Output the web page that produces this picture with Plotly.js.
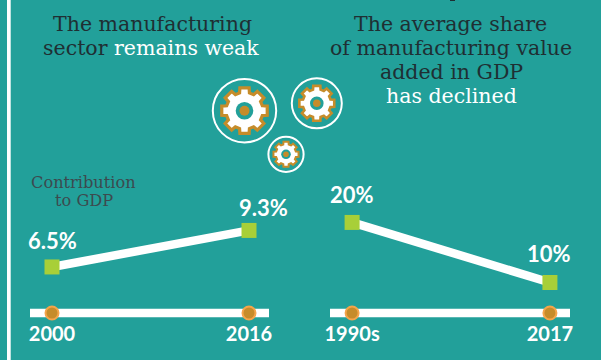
<!DOCTYPE html>
<html>
<head>
<meta charset="utf-8">
<script src="https://cdn.plot.ly/plotly-3.0.1.min.js"></script>
<style>html,body{margin:0;padding:0;background:#22a09a;overflow:hidden}</style>
</head>
<body>
<div id="chart" style="width:601px;height:360px"></div>
<script>
// Manufacturing indicators: contribution to GDP and share of value added
const gdpPeriods = ['2000', '2016'];
const gdpValues = [6.5, 9.3];
const sharePeriods = ['1990s', '2017'];
const shareValues = [20, 10];

const TEAL = '#22a09a', WHITE = '#ffffff', INK = '#1f2f33', SLATE = '#3c4a4f';
const LIME = '#a8cf38', AMBER = '#c68c2a', AMBER_RIM = '#f5a54a';
const W = 601, H = 360;
const LABEL = 'Lato, sans-serif', SERIF = '"DejaVu Serif", serif';

const lineTrace = (x, y, xa, ya) => ({
  type: 'scatter', mode: 'lines+markers', x, y, xaxis: xa, yaxis: ya,
  line: {color: WHITE, width: 8.5},
  marker: {symbol: 'square', size: 15, color: LIME},
  cliponaxis: false, hoverinfo: 'skip', showlegend: false
});
const dotTrace = (x, yMin, xa, ya) => ({
  type: 'scatter', mode: 'markers', x, y: x.map(() => yMin), xaxis: xa, yaxis: ya,
  marker: {symbol: 'circle', size: 13, color: AMBER, line: {color: AMBER_RIM, width: 2}},
  cliponaxis: false, hoverinfo: 'skip', showlegend: false
});

const gdpRange = [2.97, 12.4], shareRange = [4.92, 25.4];
const traces = [
  lineTrace(gdpPeriods, gdpValues, 'x', 'y'),
  dotTrace(gdpPeriods, gdpRange[0], 'x', 'y'),
  lineTrace(sharePeriods, shareValues, 'x2', 'y2'),
  dotTrace(sharePeriods, shareRange[0], 'x2', 'y2')
];

// Cog outline around (cx, cy) in paper fractions, with eight square teeth
function cogPath(cx, cy, rOuter, rRoot) {
  const n = 8, pts = [];
  for (let i = 0; i < n; i++) {
    const a = i * 2 * Math.PI / n;
    const wTip = 0.2, wRoot = 0.27;
    [[rRoot, -wRoot], [rOuter, -wTip], [rOuter, wTip], [rRoot, wRoot]].forEach(([r, d]) => {
      pts.push([cx + r * Math.cos(a + d), cy + r * Math.sin(a + d)]);
    });
  }
  return 'M' + pts.map(p => (p[0] / W).toFixed(5) + ',' + (1 - p[1] / H).toFixed(5)).join('L') + 'Z';
}
const disc = (cx, cy, r, fill, lineColor, lineWidth) => ({
  type: 'circle', xref: 'paper', yref: 'paper', layer: 'above',
  x0: (cx - r) / W, x1: (cx + r) / W, y0: 1 - (cy + r) / H, y1: 1 - (cy - r) / H,
  fillcolor: fill, line: {color: lineColor, width: lineWidth}
});
const cog = (cx, cy, ring, ringW, rOuter, rRoot, hole, dot, edge) => [
  disc(cx, cy, ring, 'rgba(0,0,0,0)', WHITE, ringW),
  {type: 'path', xref: 'paper', yref: 'paper', layer: 'above', path: cogPath(cx, cy, rOuter, rRoot),
   fillcolor: WHITE, line: {color: AMBER, width: edge}},
  disc(cx, cy, hole, TEAL, TEAL, 0),
  disc(cx, cy, dot, AMBER, AMBER, 0)
];

const baseline = (xa, ya) => ({
  type: 'line', xref: xa + ' domain', yref: ya + ' domain', x0: 0, x1: 1, y0: 0, y1: 0,
  line: {color: WHITE, width: 8.6}, layer: 'below'
});
const shapes = [
  {type: 'rect', xref: 'paper', yref: 'paper', x0: 7 / W, x1: 10.7 / W, y0: 0, y1: 1,
   fillcolor: WHITE, line: {width: 0}, layer: 'below'},
  {type: 'rect', xref: 'paper', yref: 'paper', x0: 450 / W, x1: 455 / W, y0: 1 - 1 / H, y1: 1,
   fillcolor: INK, line: {width: 0}, layer: 'below'},
  baseline('x', 'y'), baseline('x2', 'y2'),
  ...cog(244.5, 110.7, 31.7, 2, 23.2, 18.5, 8.8, 5, 3.2),
  ...cog(316.8, 103.3, 25, 2, 17.8, 14.2, 6.8, 3.8, 2.6),
  ...cog(286, 154.3, 17.6, 2, 12.8, 10.2, 4.8, 2.8, 2)
];

// One annotation per text row, so the row spacing stays fixed
const row = (x, y, text, size, color) => ({
  xref: 'paper', yref: 'paper', x: x / W, y: 1 - y / H, xanchor: 'center', yanchor: 'middle',
  showarrow: false, align: 'center', text,
  font: {family: SERIF, size, color}
});
const whiteSpan = s => '<span style="color:' + WHITE + '">' + s + '</span>';
const valueLabel = (xa, ya, i, y, suffix, dx, dy) => ({
  xref: xa, yref: ya, x: i, y, text: y + suffix, showarrow: false,
  xanchor: 'center', yanchor: 'middle', xshift: dx, yshift: dy,
  font: {family: LABEL, size: 22, color: WHITE, weight: 700}
});

const annotations = [
  row(152, 24, 'The manufacturing', 20.5, INK),
  row(151, 48, 'sector ' + whiteSpan('remains weak'), 20.5, INK),
  row(450.5, 24, 'The average share', 20.5, INK),
  row(451, 48, 'of manufacturing value', 20.5, INK),
  row(451, 72, 'added in GDP', 20.5, INK),
  row(451, 96, whiteSpan('has declined'), 20.5, INK),
  row(84, 182, 'Contribution', 16.2, SLATE),
  row(84, 200, 'to GDP', 16.2, SLATE),
  valueLabel('x', 'y', 0, gdpValues[0], '%', 0, 26),
  valueLabel('x', 'y', 1, gdpValues[1], '%', 14, 23),
  valueLabel('x2', 'y2', 0, shareValues[0], '%', 0, 27.5),
  valueLabel('x2', 'y2', 1, shareValues[1], '%', -1, 28.5)
];

const categoryAxis = (left, right, domainAnchor, cats) => {
  const unit = 197;
  return {
    type: 'category', categoryarray: cats, domain: [left / W, right / W],
    range: [-22 / unit, 1 + 20 / unit], anchor: domainAnchor, fixedrange: true,
    showgrid: false, zeroline: false, showline: false,
    ticks: 'outside', ticklen: 3, tickcolor: 'rgba(0,0,0,0)',
    tickfont: {family: LABEL, size: 20, color: WHITE, weight: 700}
  };
};
const valueAxis = (range, domainAnchor) => ({
  range, domain: [1 - 313 / H, 1 - 190 / H], anchor: domainAnchor,
  visible: false, fixedrange: true
});

Plotly.newPlot('chart', traces, {
  width: W, height: H, margin: {l: 0, r: 0, t: 0, b: 0},
  paper_bgcolor: TEAL, plot_bgcolor: 'rgba(0,0,0,0)', showlegend: false,
  xaxis: categoryAxis(30, 269, 'y', gdpPeriods),
  yaxis: valueAxis(gdpRange, 'x'),
  xaxis2: categoryAxis(330, 570, 'y2', sharePeriods),
  yaxis2: valueAxis(shareRange, 'x2'),
  shapes, annotations
}, {displayModeBar: false, staticPlot: true});
</script>
</body>
</html>
